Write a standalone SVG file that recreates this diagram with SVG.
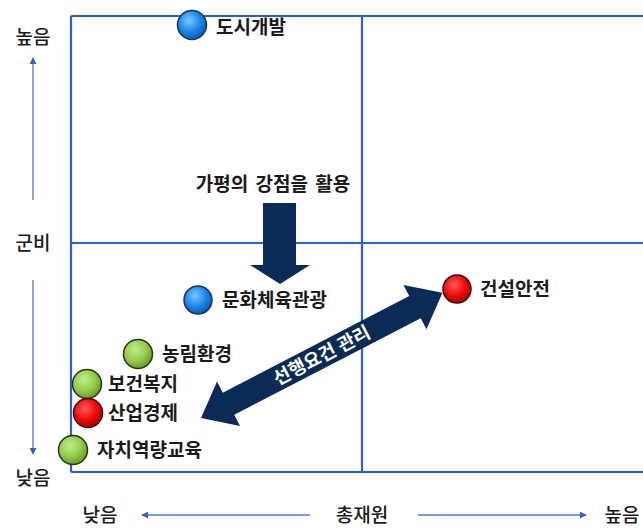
<svg xmlns="http://www.w3.org/2000/svg" width="643" height="530" viewBox="0 0 643 530">
<defs>
<style>
.lbl{font-family:"Noto Sans CJK KR","Noto Sans",sans-serif;font-weight:bold;font-size:19px;fill:#1a1a1a}
.ax{font-family:"Noto Sans CJK KR","Noto Sans",sans-serif;font-weight:500;font-size:19px;fill:#1a1a1a}
.grid{stroke:#2a5fd8;stroke-width:2.2;fill:none}
.axl{stroke:#4a78d6;stroke-width:1.3;fill:none}
.navy{fill:#0a2b55}
.white{font-family:"Noto Sans CJK KR","Noto Sans",sans-serif;font-weight:bold;font-size:18.5px;fill:#ffffff}
</style>
<radialGradient id="gBlue" cx="0.4" cy="0.35" r="0.65">
<stop offset="0" stop-color="#7cc8ff"/><stop offset="0.6" stop-color="#1a86e8"/><stop offset="1" stop-color="#0a5cb8"/>
</radialGradient>
<radialGradient id="gGreen" cx="0.4" cy="0.35" r="0.65">
<stop offset="0" stop-color="#c4ea8e"/><stop offset="0.6" stop-color="#92cc4a"/><stop offset="1" stop-color="#6a9c2a"/>
</radialGradient>
<radialGradient id="gRed" cx="0.4" cy="0.35" r="0.65">
<stop offset="0" stop-color="#ff5a5a"/><stop offset="0.6" stop-color="#ee0a0a"/><stop offset="1" stop-color="#b00000"/>
</radialGradient>
<marker id="ah" viewBox="0 0 10 10" refX="9" refY="5" markerWidth="7" markerHeight="7" orient="auto" markerUnits="userSpaceOnUse">
<path d="M0,0 L10,5 L0,10 z" fill="#2a5fd8"/>
</marker>
</defs>
<rect width="643" height="530" fill="#ffffff"/>

<g id="grid">
<line class="grid" x1="71" y1="16" x2="643" y2="16"/>
<line class="grid" x1="71" y1="16" x2="71" y2="472"/>
<line class="grid" x1="71" y1="472" x2="643" y2="472"/>
<line class="grid" x1="71" y1="243" x2="643" y2="243"/>
<line class="grid" x1="362" y1="16" x2="362" y2="472"/>
</g>

<g id="axes">
<text class="ax" x="33" y="44" text-anchor="middle">높음</text>
<text class="ax" x="33" y="250" text-anchor="middle">군비</text>
<text class="ax" x="33" y="485" text-anchor="middle">낮음</text>
<text class="ax" x="100" y="522" text-anchor="middle">낮음</text>
<text class="ax" x="362" y="522" text-anchor="middle">총재원</text>
<text class="ax" x="622" y="522" text-anchor="middle">높음</text>
</g>

<g id="connectors">
<line class="axl" x1="33" y1="200" x2="33" y2="58" marker-end="url(#ah)"/>
<line class="axl" x1="33" y1="280" x2="33" y2="454" marker-end="url(#ah)"/>
<line class="axl" x1="310" y1="515" x2="142" y2="515" marker-end="url(#ah)"/>
<line class="axl" x1="418" y1="515" x2="586" y2="515" marker-end="url(#ah)"/>
<polygon id="downArrow" class="navy" points="263,203 296,203 296,265 310,265 280,284 250,265 263,265"/>
<g id="dblArrow" transform="translate(201,418) rotate(-27.4)">
<polygon class="navy" points="0,0 31,-25 31,-12.5 241,-12.5 241,-25 272,0 241,25 241,12.5 31,12.5 31,25"/>
<text class="white" x="136" y="6.5" text-anchor="middle">선행요건 관리</text>
</g>
</g>

<g id="note">
<text class="lbl" x="273" y="191" text-anchor="middle" word-spacing="3">가평의 강점을 활용</text>
</g>

<g id="n-dosi">
<circle cx="192" cy="25" r="14.5" fill="url(#gBlue)" stroke="#1c3558" stroke-width="1.5"/>
<text class="lbl" x="216" y="34">도시개발</text>
</g>
<g id="n-munhwa">
<circle cx="198" cy="300" r="14" fill="url(#gBlue)" stroke="#1c3558" stroke-width="1.5"/>
<text class="lbl" x="222" y="307">문화체육관광</text>
</g>
<g id="n-geonseol">
<circle cx="457" cy="289" r="14" fill="url(#gRed)" stroke="#3a0a0a" stroke-width="1.5"/>
<text class="lbl" x="480" y="296">건설안전</text>
</g>
<g id="n-nongrim">
<circle cx="138" cy="354" r="14.5" fill="url(#gGreen)" stroke="#2a3312" stroke-width="1.5"/>
<text class="lbl" x="162" y="361">농림환경</text>
</g>
<g id="n-bogeon">
<circle cx="87" cy="384" r="14.5" fill="url(#gGreen)" stroke="#2a3312" stroke-width="1.5"/>
<text class="lbl" x="108" y="391">보건복지</text>
</g>
<g id="n-saneop">
<circle cx="88" cy="413" r="14.5" fill="url(#gRed)" stroke="#3a0a0a" stroke-width="1.5"/>
<text class="lbl" x="108" y="420">산업경제</text>
</g>
<g id="n-jachi">
<circle cx="73" cy="450" r="14.5" fill="url(#gGreen)" stroke="#2a3312" stroke-width="1.5"/>
<text class="lbl" x="97" y="457">자치역량교육</text>
</g>
</svg>
